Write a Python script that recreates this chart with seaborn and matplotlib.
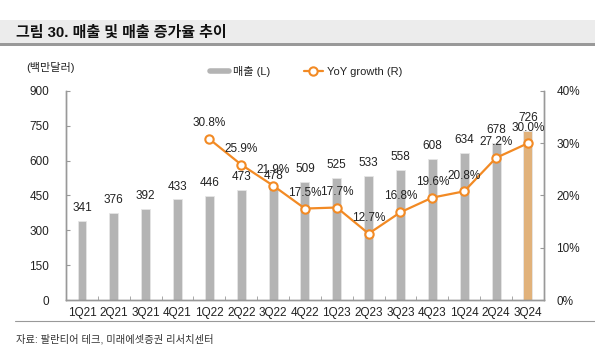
import numpy as np
import pandas as pd
import matplotlib
matplotlib.use('Agg')
import matplotlib.pyplot as plt
import seaborn as sns
from matplotlib.lines import Line2D
from matplotlib.patches import Rectangle

quarters = ['1Q21', '2Q21', '3Q21', '4Q21', '1Q22', '2Q22', '3Q22', '4Q22',
            '1Q23', '2Q23', '3Q23', '4Q23', '1Q24', '2Q24', '3Q24']
revenue = [341, 376, 392, 433, 446, 473, 478, 509, 525, 533, 558, 608, 634, 678, 726]
growth = [np.nan, np.nan, np.nan, np.nan, 30.8, 25.9, 21.9, 17.5, 17.7, 12.7,
          16.8, 19.6, 20.8, 27.2, 30.0]

sns.set_style('white')
plt.rcParams['font.family'] = ['Liberation Sans', 'Noto Sans CJK KR', 'DejaVu Sans']

GRAY = '#b4b4b4'
ORANGE = '#f28a24'
LIGHT_ORANGE = '#f2b36a'
TXT = '#222222'
SPINE = '#999999'

df = pd.DataFrame({'quarter': quarters, 'revenue': revenue, 'growth': growth})
df['pos'] = np.arange(len(df))

fig = plt.figure(figsize=(5.95, 3.54), dpi=100)
ax = fig.add_axes([0.111, 0.1525, 0.803, 0.5905])

colors = [GRAY] * (len(quarters) - 1) + [LIGHT_ORANGE]
sns.barplot(data=df, x='quarter', y='revenue', hue='quarter', palette=colors,
            legend=False, width=0.28, ax=ax, edgecolor='#e6e6e6', linewidth=0.6)
ax.set_ylim(0, 900)
ax.set_xlim(-0.5, len(quarters) - 0.5)
ax.set_yticks(range(0, 901, 150))
ax.set_xlabel('')
ax.set_ylabel('')

for i, v in enumerate(revenue):
    ax.annotate(str(v), (i, v), xytext=(0, 5), textcoords='offset points',
                ha='center', va='bottom', fontsize=8.5, color=TXT)

ax2 = ax.twinx()
g = df.dropna(subset=['growth'])
sns.lineplot(x=g['pos'], y=g['growth'] / 100, ax=ax2, color=ORANGE, linewidth=1.6,
             marker='o', markersize=6, markerfacecolor='white',
             markeredgecolor=ORANGE, markeredgewidth=1.5)
ax2.set_ylim(0, 0.4)
ax2.set_yticks([0, 0.1, 0.2, 0.3, 0.4])
ax2.set_yticklabels(['0%', '10%', '20%', '30%', '40%'])
ax2.set_xlabel('')
ax2.set_ylabel('')
for _, r in g.iterrows():
    ax2.annotate(f"{r['growth']:.1f}%", (r['pos'], r['growth'] / 100), xytext=(0, 7),
                 textcoords='offset points', ha='center', va='bottom',
                 fontsize=8.5, color=TXT)

for a in (ax, ax2):
    a.spines['top'].set_visible(False)
    for s in ('left', 'right', 'bottom'):
        a.spines[s].set_color(SPINE)
        a.spines[s].set_linewidth(1.0)

ax.set_xticks(range(len(quarters)))
ax.set_xticklabels(quarters)
ax.set_xticks(np.arange(0.5, len(quarters) - 1, 1), minor=True)
ax.tick_params(axis='x', which='major', length=0, pad=5, labelsize=8.5, labelcolor=TXT)
ax.tick_params(axis='x', which='minor', length=3, direction='in', color=SPINE, bottom=True)
ax.tick_params(axis='y', length=3, direction='in', color=SPINE, pad=12,
               labelsize=8.5, labelcolor=TXT, left=True)
ax2.tick_params(axis='y', length=3, direction='in', color=SPINE, pad=9,
                labelsize=8.5, labelcolor=TXT, right=True)

# title band
fig.patches.append(Rectangle((0, 0.8785), 1, 0.065, transform=fig.transFigure,
                             facecolor='#ececec', edgecolor='none', zorder=0))
fig.patches.append(Rectangle((0, 0.870), 1, 0.0085, transform=fig.transFigure,
                             facecolor='#999999', edgecolor='none', zorder=0))
fig.text(0.027, 0.907, '그림 30. 매출 및 매출 증가율 추이', fontsize=10.8,
         fontweight='bold', color='#111111', va='center', ha='left')

fig.text(0.085, 0.81, '(백만달러)', fontsize=8, color=TXT, ha='center', va='center')

handles = [Line2D([], [], color=GRAY, linewidth=4),
           Line2D([], [], color=ORANGE, linewidth=1.6, marker='o', markersize=6,
                  markerfacecolor='white', markeredgecolor=ORANGE, markeredgewidth=1.5)]
fig.legend(handles, ['매출 (L)', 'YoY growth (R)'], loc='center',
           bbox_to_anchor=(0.515, 0.797), ncol=2, frameon=False, fontsize=8,
           handlelength=1.7, columnspacing=3.0, handletextpad=0.4, labelcolor=TXT)

# footer
fig.add_artist(Line2D([0.025, 1.0], [0.093, 0.093], transform=fig.transFigure,
                      color='#999999', linewidth=0.8))
fig.text(0.027, 0.042, '자료: 팔란티어 테크, 미래에셋증권 리서치센터', fontsize=7.4,
         color='#333333', ha='left', va='center')

fig.savefig('out.png', dpi=100, facecolor='white')
